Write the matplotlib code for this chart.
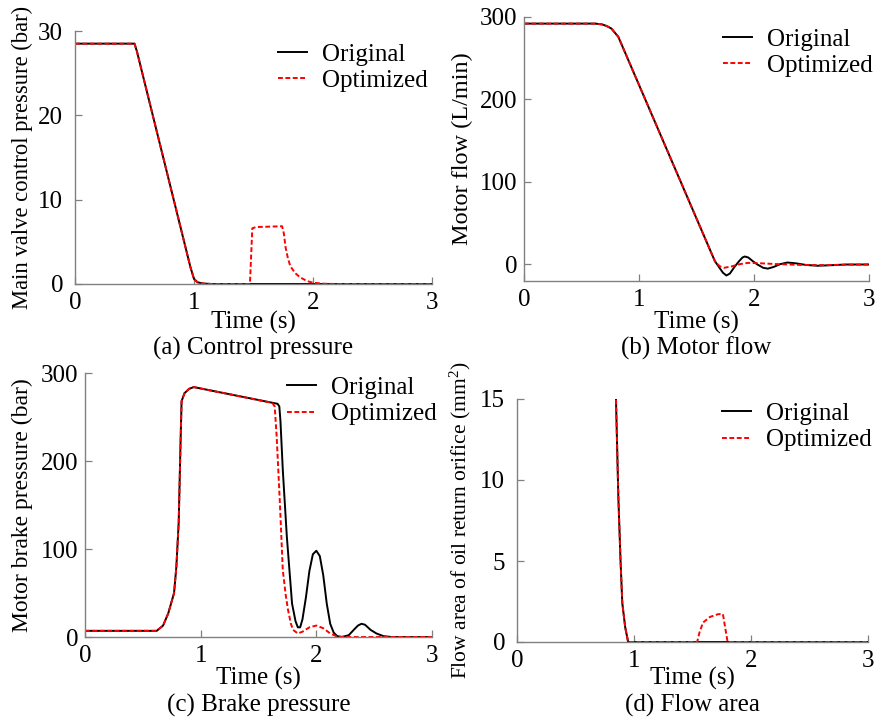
import matplotlib
matplotlib.use("Agg")
import matplotlib.pyplot as plt

plt.rcParams["font.family"] = ["Liberation Serif", "DejaVu Serif"]
plt.rcParams["mathtext.fontset"] = "custom"
plt.rcParams["mathtext.rm"] = "Liberation Serif"
plt.rcParams["mathtext.it"] = "Liberation Serif:italic"

TXT = 18    # tick labels, legend, x labels, captions
W, H = 876, 722

# (a) control pressure (bar)
a_orig_t = [0, 0.50, 0.52, 0.97, 1.00, 1.03, 1.08, 1.15, 3.0]
a_orig_v = [28.5, 28.5, 27.6, 2.0, 0.6, 0.2, 0.05, 0, 0]
a_opt_t = [0, 0.50, 0.52, 0.97, 1.00, 1.03, 1.08, 1.15, 1.47, 1.49, 1.52, 1.74,
           1.755, 1.77, 1.79, 1.81, 1.85, 1.89, 1.95, 2.0, 2.1, 2.2, 3.0]
a_opt_v = [28.5, 28.5, 27.6, 2.0, 0.6, 0.2, 0.05, 0, 0, 6.6, 6.75, 6.85,
           6.0, 4.3, 3.0, 2.1, 1.3, 0.8, 0.35, 0.15, 0.03, 0, 0]

# (b) motor flow (L/min)
b_orig_t = [0, 0.62, 0.68, 0.72, 0.76, 0.79, 0.82, 1.66, 1.70, 1.73, 1.76, 1.79,
            1.83, 1.87, 1.90, 1.92, 1.95, 1.99, 2.03, 2.08, 2.12, 2.17, 2.23,
            2.29, 2.36, 2.45, 2.55, 2.65, 2.8, 3.0]
b_orig_v = [292, 292, 291, 289, 286, 281, 276, 4, -4, -10, -13.3, -11,
            -3, 4, 8.5, 9.7, 8.5, 4, 0, -4, -5, -3, 0.5,
            2.4, 1.5, -0.5, -1.5, -1, 0, 0]
b_opt_t = [0, 0.62, 0.68, 0.72, 0.76, 0.79, 0.82, 1.66, 1.70, 1.74, 1.80, 1.88,
           1.95, 2.05, 2.2, 2.4, 2.6, 2.8, 3.0]
b_opt_v = [292, 292, 291, 289, 286, 281, 276, 4, -2, -4, -2.5, 0.5,
           2, 1.5, 0.5, -0.5, -0.8, -0.3, 0]

# (c) brake pressure (bar)
c_orig_t = [0, 0.62, 0.675, 0.72, 0.77, 0.79, 0.81, 0.825, 0.835, 0.86, 0.90,
            0.94, 1.665, 1.68, 1.69, 1.71, 1.745, 1.79, 1.82, 1.84, 1.86, 1.88,
            1.91, 1.94, 1.97, 2.0, 2.03, 2.06, 2.09, 2.12, 2.15, 2.18, 2.22,
            2.28, 2.33, 2.36, 2.39, 2.42, 2.47, 2.52, 2.58, 2.65, 3.0]
c_orig_v = [7, 7, 13, 27, 50, 80, 130, 215, 268, 277, 282,
            284, 265, 262, 245, 190, 114, 38, 18, 11, 11, 20,
            45, 75, 94, 98, 92, 70, 38, 15, 5, 1, 0,
            2, 9, 13, 15, 14, 8, 4, 1, 0, 0]
c_opt_t = [0, 0.62, 0.675, 0.72, 0.77, 0.79, 0.81, 0.825, 0.835, 0.86, 0.90,
           0.94, 1.62, 1.64, 1.657, 1.685, 1.71, 1.735, 1.755, 1.78, 1.80,
           1.84, 1.88, 1.94, 2.0, 2.06, 2.12, 2.18, 2.25, 3.0]
c_opt_v = [7, 7, 13, 27, 50, 80, 130, 215, 268, 277, 282,
           284, 266, 262, 228, 152, 76, 48, 31, 15, 8,
           4, 6, 11, 13, 10, 4, 0.5, 0, 0]

# (d) flow area of oil return orifice (mm^2)
d_orig_t = [0.80, 0.846, 0.866, 0.885, 0.90, 0.925, 0.95, 3.0]
d_orig_v = [30, 15, 9, 5, 2.4, 0.9, 0, 0]
d_opt_t = [0.80, 0.846, 0.866, 0.885, 0.90, 0.925, 0.95, 1.54, 1.56, 1.59,
           1.65, 1.72, 1.76, 1.80, 3.0]
d_opt_v = [30, 15, 9, 5, 2.4, 0.9, 0, 0, 0.6, 1.2,
           1.55, 1.72, 1.72, 0, 0]

GRAY = "#808080"

# axes boxes given in pixels: left, top, right, bottom
panels = [
    dict(box=(75, 31, 432, 284),
         data=(a_orig_t, a_orig_v, a_opt_t, a_opt_v),
         ylim=(0, 30), yticks=[0, 10, 20, 30],
         ylabel="Main valve control pressure (bar)", ylx=-0.118, ylsize=16.3,
         ypad=8.5, leg=(0.569, 0.951), row_y=(322, 348),
         cap="(a) Control pressure"),
    dict(box=(524, 17, 869, 281),
         data=(b_orig_t, b_orig_v, b_opt_t, b_opt_v),
         ylim=(-20, 300), yticks=[0, 100, 200, 300],
         ylabel="Motor flow (L/min)", ylx=-0.148, ylsize=17.5,
         ypad=5, leg=(0.577, 0.957), row_y=(322, 348),
         cap="(b) Motor flow"),
    dict(box=(85, 373, 432, 637),
         data=(c_orig_t, c_orig_v, c_opt_t, c_opt_v),
         ylim=(0, 300), yticks=[0, 100, 200, 300],
         ylabel="Motor brake pressure (bar)", ylx=-0.15, ylsize=17,
         ypad=5, leg=(0.582, 0.986), row_y=(678, 705),
         cap="(c) Brake pressure"),
    dict(box=(517, 399, 868, 642),
         data=(d_orig_t, d_orig_v, d_opt_t, d_opt_v),
         ylim=(0, 15), yticks=[0, 5, 10, 15],
         ylabel="Flow area of oil return orifice (mm$^2$)", ylx=-0.125,
         ylsize=15.5, ypad=8.5, leg=(0.584, 0.985), row_y=(678, 705),
         cap="(d) Flow area"),
]

fig = plt.figure(figsize=(W / 100, H / 100), dpi=100)

for p in panels:
    l, t, r, b = p["box"]
    ax = fig.add_axes([l / W, 1 - b / H, (r - l) / W, (b - t) / H])
    ot, ov, pt, pv = p["data"]
    ax.plot(ot, ov, color="black", linewidth=1.4, label="Original")
    ax.plot(pt, pv, color="red", linewidth=1.4, linestyle=(0, (2.5, 1.3)),
            label="Optimized")

    ax.set_xlim(0, 3)
    ax.set_ylim(*p["ylim"])
    ax.set_xticks([0, 1, 2, 3])
    ax.set_yticks(p["yticks"])

    for side in ("top", "right"):
        ax.spines[side].set_visible(False)
    for side in ("left", "bottom"):
        ax.spines[side].set_color(GRAY)
        ax.spines[side].set_linewidth(1.0)

    ax.tick_params(direction="in", length=5, width=0.9, color=GRAY,
                   labelsize=TXT)
    ax.tick_params(axis="x", pad=6)
    ax.tick_params(axis="y", pad=p["ypad"])

    xc = (l + r) / 2 / W
    label_y, cap_y = p["row_y"]
    ax.set_xlabel("Time (s)", fontsize=TXT, va="center")
    ax.xaxis.set_label_coords(xc, 1 - label_y / H, transform=fig.transFigure)
    ax.set_ylabel(p["ylabel"], fontsize=p["ylsize"])
    ax.yaxis.set_label_coords(p["ylx"], 0.5)

    ax.legend(loc="upper left", bbox_to_anchor=p["leg"], frameon=False,
              fontsize=TXT, handlelength=1.15, handletextpad=0.6,
              labelspacing=0.15, borderpad=0, borderaxespad=0)

    fig.text(xc, 1 - cap_y / H, p["cap"], ha="center", va="center",
             fontsize=TXT)

fig.savefig("out.png", dpi=100)
